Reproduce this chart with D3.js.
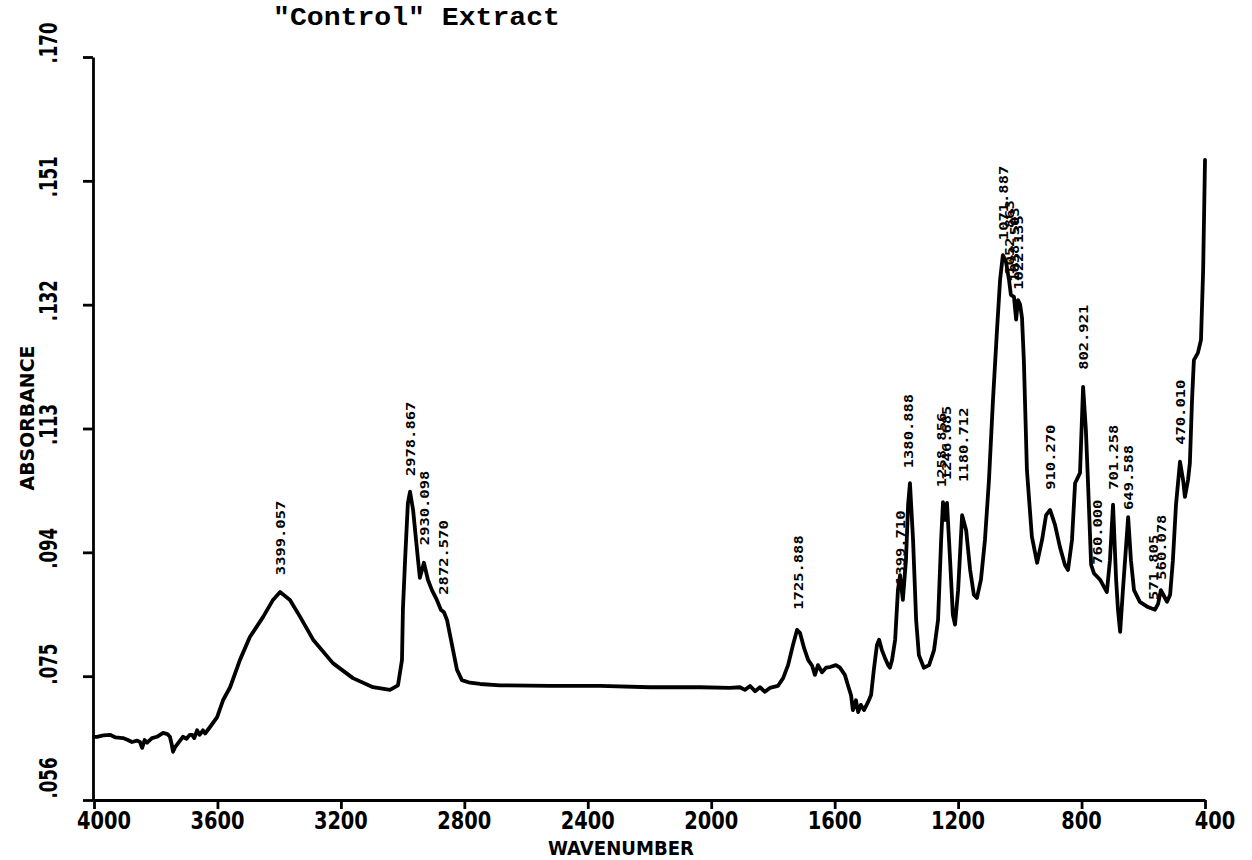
<!DOCTYPE html>
<html><head><meta charset="utf-8">
<script src="https://cdn.jsdelivr.net/npm/d3@7"></script>
<style>body{margin:0;background:#fff} svg{display:block}</style>
</head><body>
<svg id="c" width="1252" height="860"></svg>
<script>
const titleText = '"Control" Extract';
const xAxisTitle = "WAVENUMBER";
const yAxisTitle = "ABSORBANCE";
const xTickValues = [4000, 3600, 3200, 2800, 2400, 2000, 1600, 1200, 800, 400];
const xTickLabels = ["4000", "3600", "3200", "2800", "2400", "2000", "1600", "1200", "800", "400"];
const yTickValues = [0.056, 0.075, 0.094, 0.113, 0.132, 0.151, 0.170];
const yTickLabels = [".056", ".075", ".094", ".113", ".132", ".151", ".170"];

const wavenumber = [4000,3990,3970,3948,3930,3906,3890,3877,3860,3851,3844,3836,3828,3812,3796,3776,3762,3754,3748,3744,3736,3728,3720,3712,3700,3690,3682,3675,3666,3658,3647,3640,3624,3601,3582,3559,3527,3495,3452,3420,3397,3365,3332,3290,3226,3161,3096,3041,3015,3002,2999,2992,2983,2976,2966,2950,2944,2931,2918,2905,2889,2876,2866,2856,2840,2824,2808,2782,2749,2684,2522,2360,2198,2036,1939,1907,1891,1874,1858,1842,1826,1810,1784,1767,1751,1735,1722,1712,1699,1686,1673,1664,1654,1641,1628,1615,1596,1583,1567,1557,1547,1541,1531,1524,1515,1505,1492,1482,1473,1463,1456,1447,1437,1427,1421,1414,1404,1395,1388,1379,1369,1362,1356,1346,1336,1327,1311,1294,1278,1265,1255,1249,1242,1236,1226,1217,1210,1200,1187,1174,1161,1149,1139,1126,1113,1100,1087,1074,1064,1055,1045,1035,1029,1019,1012,1006,999,993,987,977,961,944,928,915,902,886,870,854,844,831,821,805,795,786,779,769,760,740,718,708,698,688,682,675,666,649,640,630,611,585,562,552,543,533,523,513,504,494,481,471,465,455,449,442,436,423,413,406,400];
const absorbance = [0.0657,0.0657,0.0659,0.0660,0.0656,0.0655,0.0652,0.0649,0.0651,0.0649,0.0640,0.0652,0.0648,0.0655,0.0657,0.0663,0.0661,0.0657,0.0645,0.0634,0.0642,0.0647,0.0652,0.0657,0.0654,0.0660,0.0660,0.0655,0.0667,0.0660,0.0667,0.0662,0.0672,0.0687,0.0713,0.0733,0.0775,0.0810,0.0841,0.0867,0.0879,0.0867,0.0841,0.0806,0.0770,0.0747,0.0733,0.0729,0.0736,0.0775,0.0852,0.0928,0.1015,0.1033,0.1005,0.0928,0.0901,0.0924,0.0898,0.0882,0.0867,0.0852,0.0848,0.0836,0.0798,0.0760,0.0744,0.0740,0.0738,0.0736,0.0735,0.0735,0.0733,0.0733,0.0732,0.0733,0.0729,0.0735,0.0727,0.0733,0.0726,0.0732,0.0735,0.0747,0.0767,0.0798,0.0821,0.0816,0.0793,0.0775,0.0766,0.0752,0.0767,0.0756,0.0763,0.0764,0.0767,0.0763,0.0752,0.0736,0.0721,0.0698,0.0713,0.0695,0.0706,0.0698,0.0710,0.0721,0.0760,0.0798,0.0806,0.0790,0.0778,0.0767,0.0763,0.0775,0.0806,0.0882,0.0905,0.0867,0.0928,0.1013,0.1046,0.0959,0.0836,0.0782,0.0763,0.0767,0.0790,0.0836,0.0959,0.1017,0.0990,0.1016,0.0928,0.0844,0.0829,0.0882,0.0997,0.0974,0.0913,0.0875,0.0870,0.0898,0.0959,0.1051,0.1174,0.1281,0.1358,0.1396,0.1386,0.1358,0.1335,0.1332,0.1297,0.1327,0.1320,0.1300,0.1235,0.1066,0.0964,0.0924,0.0959,0.0997,0.1005,0.0982,0.0948,0.0921,0.0913,0.0959,0.1046,0.1062,0.1194,0.1128,0.1046,0.0921,0.0908,0.0898,0.0879,0.0928,0.1013,0.0898,0.0852,0.0818,0.0882,0.0994,0.0928,0.0882,0.0864,0.0856,0.0852,0.0861,0.0882,0.0873,0.0864,0.0875,0.0928,0.1013,0.1079,0.1051,0.1025,0.1051,0.1077,0.1174,0.1235,0.1246,0.1266,0.1373,0.1542];

const peakLabelText = ["3399.057","2978.867","2930.098","2872.570","1725.888","1399.710","1380.888","1258.856","1246.685","1180.712","1071.887","1052.863","1038.503","1022.135","910.270","802.921","760.000","701.258","649.588","571.805","560.078","470.010"];
const peakLabelWavenumber = [3397,2976,2931,2869,1719,1388,1362,1255,1240,1184,1055,1035,1019,1006,902,795,750,698,649,569,543,481];
const peakLabelAbsorbance = [0.0905,0.1057,0.0951,0.0875,0.0852,0.0890,0.1069,0.1040,0.1051,0.1048,0.1419,0.1366,0.1355,0.1343,0.1036,0.1220,0.0921,0.1036,0.1005,0.0867,0.0898,0.1105];

const svg = d3.select("#c");
const x = d3.scaleLinear().domain([4000, 400]).range([94, 1205]);
const y = d3.scaleLinear().domain([0.056, 0.170]).range([800, 57]);
const ink = "#000";

// axes
const gx = svg.append("g").attr("transform", "translate(0,800)")
  .call(d3.axisBottom(x).tickValues(xTickValues).tickSize(9).tickSizeOuter(0).tickFormat(""));
const gy = svg.append("g").attr("transform", "translate(93,0)")
  .call(d3.axisLeft(y).tickValues(yTickValues).tickSize(10).tickSizeOuter(0).tickFormat(""));
[gx, gy].forEach(g => {
  g.selectAll("path, line").attr("stroke", ink).attr("stroke-width", 2.8);
});

// x tick labels
xTickValues.forEach((v, i) => {
  let cx = x(v);
  if (i === 0) cx += 10;
  if (i === xTickValues.length - 1) cx += 10;
  svg.append("text").attr("x", cx).attr("y", 829)
    .attr("text-anchor", "middle")
    .attr("font-family", "DejaVu Sans").attr("font-weight", "bold").attr("font-size", 25)
    .attr("textLength", xTickLabels[i].length * 13.5).attr("lengthAdjust", "spacingAndGlyphs")
    .attr("fill", ink).text(xTickLabels[i]);
});
svg.append("text").attr("x", 621).attr("y", 855).attr("text-anchor", "middle")
  .attr("font-family", "DejaVu Sans").attr("font-weight", "bold").attr("font-size", 20)
  .attr("textLength", 146).attr("lengthAdjust", "spacingAndGlyphs")
  .attr("fill", ink).text(xAxisTitle);

// y tick labels (rotated)
yTickValues.forEach((v, i) => {
  let cy = y(v) - 4;
  if (i === yTickValues.length - 1) cy = y(v) - 14;
  if (i === 0) cy = y(v) - 22;
  if (i === 1) cy = y(v) - 12;
  svg.append("text").attr("transform", `translate(57,${cy}) rotate(-90)`)
    .attr("text-anchor", "middle")
    .attr("font-family", "DejaVu Sans").attr("font-weight", "bold").attr("font-size", 25)
    .attr("textLength", 41).attr("lengthAdjust", "spacingAndGlyphs")
    .attr("fill", ink).text(yTickLabels[i]);
});
svg.append("text").attr("transform", "translate(34,418) rotate(-90)")
  .attr("text-anchor", "middle")
  .attr("font-family", "DejaVu Sans").attr("font-weight", "bold").attr("font-size", 20)
  .attr("textLength", 145).attr("lengthAdjust", "spacingAndGlyphs")
  .attr("fill", ink).text(yAxisTitle);

// title
svg.append("text").attr("x", 273).attr("y", 25)
  .attr("font-family", "Liberation Mono").attr("font-weight", "bold").attr("font-size", 26)
  .attr("textLength", 287).attr("lengthAdjust", "spacingAndGlyphs")
  .attr("fill", ink).text(titleText);

// spectrum
const pts = wavenumber.map((w, i) => [w, absorbance[i]]);
svg.append("path").datum(pts)
  .attr("d", d3.line().x(d => x(d[0])).y(d => y(d[1])))
  .attr("fill", "none").attr("stroke", ink).attr("stroke-width", 3.8)
  .attr("stroke-linejoin", "round").attr("stroke-linecap", "round");

// peak labels
peakLabelText.forEach((t, i) => {
  const px = x(peakLabelWavenumber[i]) + 5;
  const py = y(peakLabelAbsorbance[i]);
  svg.append("text").attr("transform", `translate(${px},${py}) rotate(-90)`)
    .attr("text-anchor", "start")
    .attr("font-family", "DejaVu Sans Mono").attr("font-weight", "bold").attr("font-size", 13)
    .attr("textLength", t.length * 9.3).attr("lengthAdjust", "spacingAndGlyphs")
    .attr("fill", ink).text(t);
});
</script>
</body></html>
